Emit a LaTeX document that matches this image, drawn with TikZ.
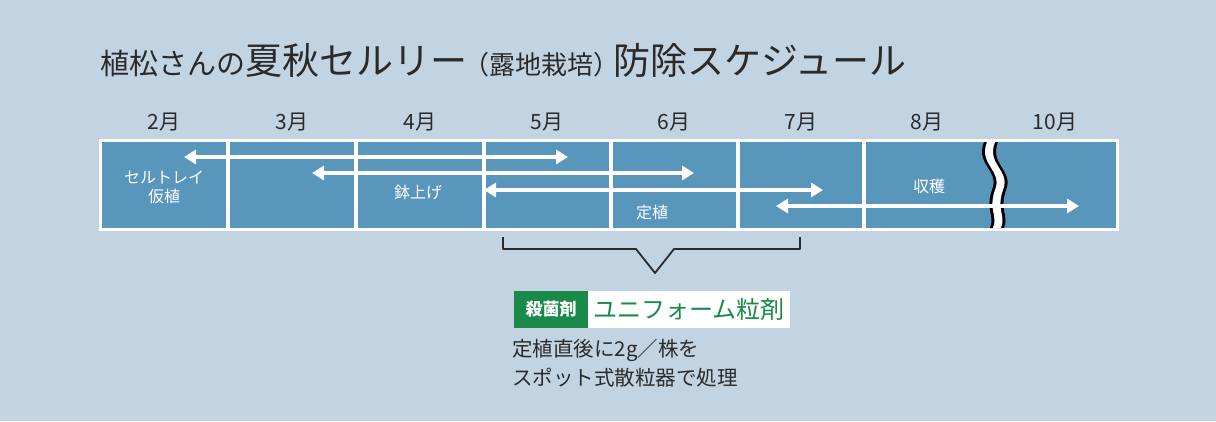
\documentclass[tikz,border=0pt]{standalone}
\usepackage{fontspec}
\setmainfont{Noto Sans CJK JP}
\usetikzlibrary{arrows.meta}
\begin{document}
\definecolor{bg}{HTML}{C2D4E2}
\definecolor{cell}{HTML}{5896BC}
\definecolor{grn}{HTML}{1A8A4A}
\definecolor{ink}{HTML}{2A2A2A}
\begin{tikzpicture}[x=1pt,y=-1pt,
  mon/.style={font=\fontsize{21}{21}\selectfont, text=ink},
  lab/.style={font=\fontsize{16}{19}\selectfont, text=white, align=center},
  arr/.style={white, line width=3.5pt, {Triangle[width=14pt,length=12pt]}-{Triangle[width=14pt,length=12pt]}}]
\fill[bg] (0,0) rectangle (1216,421);
\useasboundingbox (0,0) rectangle (1216,421);
% title
\node[anchor=base west, text=ink, inner sep=0] (title) at (100,74)
 {\fontsize{29}{29}\selectfont 植松さんの\fontsize{37}{37}\selectfont 夏秋セルリー\fontsize{26}{26}\selectfont\kern-4pt（露地栽培）\kern-6pt\fontsize{37}{37}\selectfont 防除スケジュール};
% box
\fill[white] (99,139) rectangle (1119,231);
\foreach \a/\b in {102/226,230/354,358/482,486/609,613/736,740/862,866/1116}
  \fill[cell] (\a,142) rectangle (\b,228);
% months
\foreach \x/\m [count=\i] in {164/2,292/3,420/4,547/5,674/6,801/7,927/8,1055/10}
  \node[mon] (m\i) at (\x,122) {\m 月};
% break
\fill[black] (984,142) .. controls (975,165) and (1000,170) .. (992,190) .. controls (985,210) and (995,215) .. (990,228)
 -- (1004,228) .. controls (1009,215) and (999,210) .. (1006,190) .. controls (1014,170) and (989,165) .. (998,142) -- cycle;
\fill[white] (987,142) .. controls (978,165) and (1003,170) .. (995,190) .. controls (988,210) and (998,215) .. (993,228)
 -- (1001,228) .. controls (1006,215) and (996,210) .. (1003,190) .. controls (1011,170) and (986,165) .. (995,142) -- cycle;
% arrows
\coordinate (a1) at (184,157); \coordinate (b1) at (568,157);
\coordinate (a2) at (312,173); \coordinate (b2) at (694,173);
\coordinate (a3) at (484,190); \coordinate (b3) at (823,190);
\coordinate (a4) at (776,206); \coordinate (b4) at (1079,206);
\draw[arr] (a1) -- (b1);
\draw[arr] (a2) -- (b2);
\draw[arr] (a3) -- (b3);
\draw[arr] (a4) -- (b4);
% labels
\node[lab] (l1) at (164,187) {セルトレイ\\仮植};
\node[lab] (l2) at (418,192) {鉢上げ};
\node[lab] (l3) at (652,212) {定植};
\node[lab] (l4) at (929,186) {収穫};
% bracket
\draw[ink, line width=1.8pt, line join=round] (503,237) -- (503,249) -- (636,249) -- (655,273) -- (674,249) -- (800,249) -- (800,237);
% product
\node[fill=grn, text=white, minimum width=74pt, minimum height=37pt, inner sep=0, anchor=west,
  font=\fontsize{17}{17}\selectfont\bfseries] (k) at (514,309) {殺菌剤};
\node[fill=white, text=grn, minimum width=202pt, minimum height=37pt, inner sep=0, anchor=west,
  font=\fontsize{24}{24}\selectfont] (p) at (588,309) {ユニフォーム粒剤};
\node[anchor=north west, text=ink, align=left, inner sep=0, font=\fontsize{20.5}{29}\selectfont] (d) at (512,339)
 {定植直後に2g／株を\\スポット式散粒器で処理};
\end{tikzpicture}
\end{document}
